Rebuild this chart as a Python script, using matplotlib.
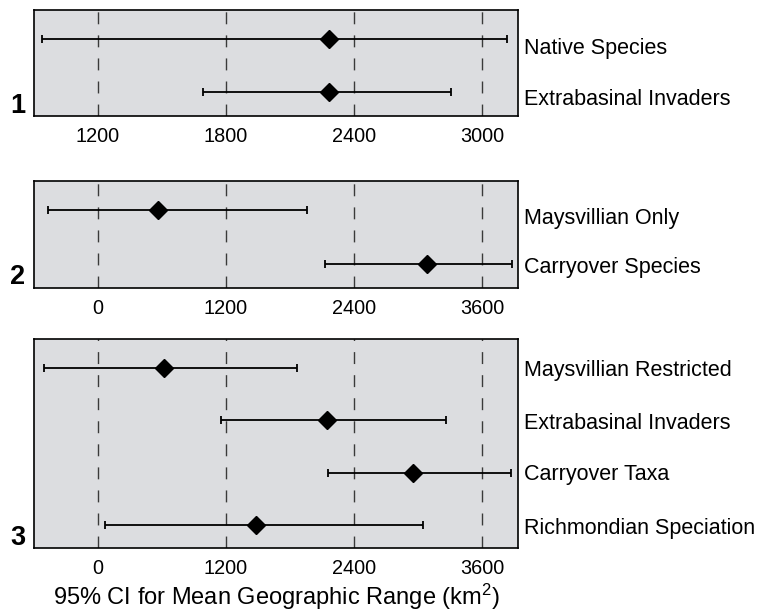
import matplotlib
matplotlib.use('Agg')
import matplotlib.pyplot as plt
import numpy as np

plt.rcParams['font.family'] = ['Liberation Sans', 'DejaVu Sans']
plt.rcParams['mathtext.fontset'] = 'custom'
plt.rcParams['mathtext.rm'] = 'Liberation Sans'
plt.rcParams['mathtext.it'] = 'Liberation Sans'

# panel 1
labels1 = ['Native Species', 'Extrabasinal Invaders']
mean1 = [2283, 2283]
low1 = [939, 1693]
high1 = [3117, 2852]
ticks1 = [1200, 1800, 2400, 3000]

# panel 2
labels2 = ['Maysvillian Only', 'Carryover Species']
mean2 = [568, 3079]
low2 = [-464, 2126]
high2 = [1963, 3881]
ticks2 = [0, 1200, 2400, 3600]

# panel 3
labels3 = ['Maysvillian Restricted', 'Extrabasinal Invaders', 'Carryover Taxa',
           'Richmondian Speciation']
mean3 = [621, 2142, 2953, 1480]
low3 = [-506, 1152, 2157, 66]
high3 = [1862, 3263, 3872, 3047]
ticks3 = [0, 1200, 2400, 3600]

W, H = 761, 612
bg = '#dcdde0'


def px_rect(left, top, right, bottom):
    return [left / W, 1 - bottom / H, (right - left) / W, (bottom - top) / H]


def draw_panel(fig, rect, labels, mean, low, high, ticks, xlim, num, label_shift):
    ax = fig.add_axes(rect)
    ax.set_facecolor(bg)
    n = len(labels)
    y = np.arange(n)
    for t in ticks:
        ax.axvline(t, color='#3a3a3a', lw=1.0, dashes=(8.6, 8.0), zorder=1)
    mean = np.array(mean)
    err = [mean - np.array(low), np.array(high) - mean]
    ax.errorbar(mean, y, xerr=err, fmt='D', color='black', ms=9.5, lw=1.3,
                capsize=2.7, capthick=1.3, zorder=3)
    ax.set_xlim(*xlim)
    ax.set_ylim(n - 1 + 0.45, -0.55)
    ax.set_yticks([])
    ax.set_xticks(ticks)
    ax.set_xticklabels([str(t) for t in ticks], fontsize=14.3)
    ax.tick_params(axis='x', length=0, pad=8.0)
    for s in ax.spines.values():
        s.set_linewidth(1.2)
    for i, lab in enumerate(labels):
        ax.text(1.013, i + label_shift[i], lab, transform=ax.get_yaxis_transform(),
                ha='left', va='center_baseline', fontsize=15.5)
    pos = ax.get_position()
    fig.text(25 / W, pos.y0 + 3 / H, num, ha='right', va='baseline',
             fontsize=19.5, fontweight='bold')
    return ax


fig = plt.figure(figsize=(W / 100, H / 100), dpi=100)

draw_panel(fig, px_rect(33.7, 9.7, 518, 116.3), labels1, mean1, low1, high1,
           ticks1, (899, 3167), '1', [0.125, 0.086])
draw_panel(fig, px_rect(33.7, 181, 518, 287.5), labels2, mean2, low2, high2,
           ticks2, (-600, 3934), '2', [0.10, 0.03])
ax3 = draw_panel(fig, px_rect(33.7, 339.3, 518, 548.3), labels3, mean3, low3, high3,
                 ticks3, (-600, 3934), '3', [0.0, 0.02, -0.01, 0.03])

fig.text((33.7 + 518) / 2 / W, 1 - 605 / H,
         r'95% CI for Mean Geographic Range (km$^{2}$)',
         ha='center', va='baseline', fontsize=17)

fig.savefig('out.png', dpi=100)
